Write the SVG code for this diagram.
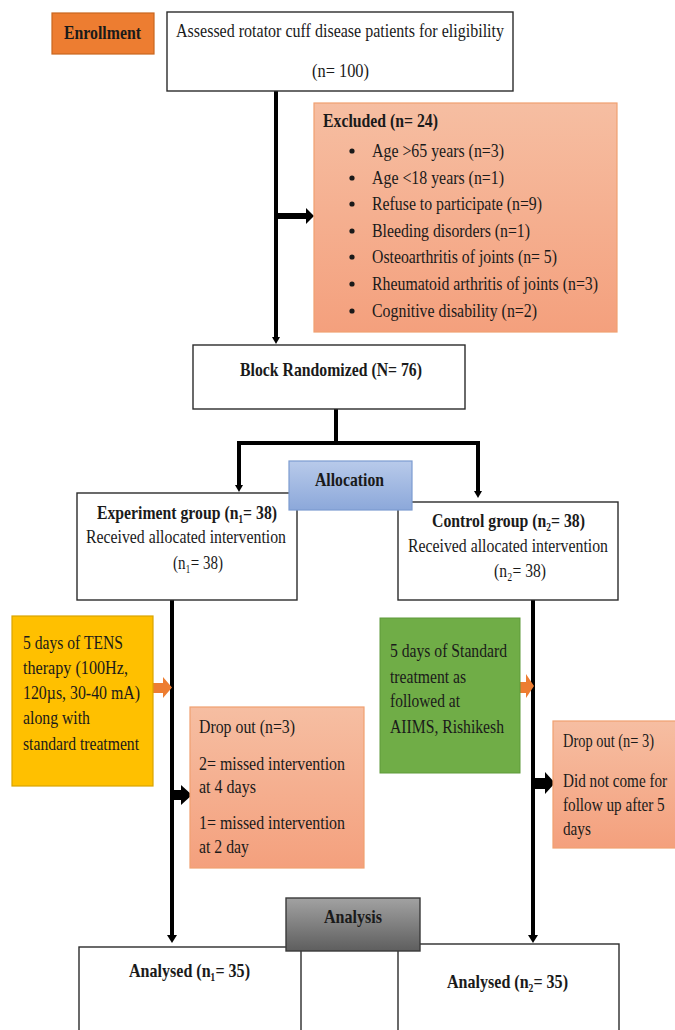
<svg xmlns="http://www.w3.org/2000/svg" width="675" height="1030" viewBox="0 0 675 1030">
<style>
.t{font-family:"Liberation Serif","Times New Roman","DejaVu Serif",serif;font-size:19px;fill:#1a1a1a}
.b{font-weight:bold}
.box{fill:#fff;stroke:#2b2b2b;stroke-width:1.4}
.ln{stroke:#000;stroke-width:4;fill:none}
.hd{fill:#000}
.oa{fill:#ED7D31}
</style>
<defs>
<linearGradient id="gS" x1="0" y1="0" x2="0" y2="1"><stop offset="0" stop-color="#F6BEA2"/><stop offset="1" stop-color="#F4A07D"/></linearGradient>
<linearGradient id="gB" x1="0" y1="0" x2="0" y2="1"><stop offset="0" stop-color="#B8CAEA"/><stop offset="1" stop-color="#8CA8DA"/></linearGradient>
<linearGradient id="gG" x1="0" y1="0" x2="0" y2="1"><stop offset="0" stop-color="#A2A2A2"/><stop offset="1" stop-color="#5E5E5E"/></linearGradient>
</defs>

<g id="connectors">
<line class="ln" x1="276" y1="91" x2="276" y2="338"/>
<polygon class="hd" points="272,337 280,337 276,344"/>
<rect x="276" y="213" width="31" height="6" fill="#000"/>
<polygon class="hd" points="306,208 314,216 306,224"/>
<line class="ln" x1="336" y1="409" x2="336" y2="443"/>
<line class="ln" x1="237" y1="443" x2="480" y2="443"/>
<line class="ln" x1="239" y1="441" x2="239" y2="486"/>
<polygon class="hd" points="235,485 243,485 239,492"/>
<line class="ln" x1="478" y1="441" x2="478" y2="492"/>
<polygon class="hd" points="474,491 482,491 478,498"/>
<line class="ln" x1="172" y1="600" x2="172" y2="937"/>
<polygon class="hd" points="167,935 177,935 172,943"/>
<line class="ln" x1="533" y1="600" x2="533" y2="937"/>
<polygon class="hd" points="528,935 538,935 533,943"/>
<rect x="172" y="790" width="10" height="10" fill="#000"/>
<polygon class="hd" points="181,785 192,795 181,805"/>
<rect x="533" y="778" width="13" height="11" fill="#000"/>
<polygon class="hd" points="545,772 555,783 545,794"/>
<polygon class="oa" points="153,683 163,683 163,677 172,687.5 163,698 163,693 153,693"/>
<polygon class="oa" points="517,682 526,682 526,674 534,686 526,698 526,693 517,693"/>
</g>

<g id="enrollment">
<rect x="52" y="13" width="102" height="41" fill="#ED7D31" stroke="#C9661F" stroke-width="1.2"/>
<text class="t b" x="64" y="39" textLength="77" lengthAdjust="spacingAndGlyphs">Enrollment</text>
</g>

<g id="assessed">
<rect class="box" x="167" y="12" width="346" height="79"/>
<text class="t" x="176" y="37" textLength="328" lengthAdjust="spacingAndGlyphs">Assessed rotator cuff disease patients for eligibility</text>
<text class="t" x="312" y="77" textLength="57" lengthAdjust="spacingAndGlyphs">(n= 100)</text>
</g>

<g id="excluded">
<rect x="314" y="103" width="303" height="229" fill="url(#gS)" stroke="#F0A070" stroke-width="1.2"/>
<text class="t b" x="323" y="127" textLength="115" lengthAdjust="spacingAndGlyphs">Excluded (n= 24)</text>
<g fill="#1a1a1a">
<circle cx="352" cy="151" r="2.6"/><circle cx="352" cy="178" r="2.6"/><circle cx="352" cy="204" r="2.6"/><circle cx="352" cy="231" r="2.6"/><circle cx="352" cy="257" r="2.6"/><circle cx="352" cy="284" r="2.6"/><circle cx="352" cy="311" r="2.6"/>
</g>
<text class="t" x="372" y="157" textLength="132" lengthAdjust="spacingAndGlyphs">Age &gt;65 years (n=3)</text>
<text class="t" x="372" y="184" textLength="132" lengthAdjust="spacingAndGlyphs">Age &lt;18 years (n=1)</text>
<text class="t" x="372" y="210" textLength="170" lengthAdjust="spacingAndGlyphs">Refuse to participate (n=9)</text>
<text class="t" x="372" y="237" textLength="158" lengthAdjust="spacingAndGlyphs">Bleeding disorders (n=1)</text>
<text class="t" x="372" y="263" textLength="185" lengthAdjust="spacingAndGlyphs">Osteoarthritis of joints (n= 5)</text>
<text class="t" x="372" y="290" textLength="226" lengthAdjust="spacingAndGlyphs">Rheumatoid arthritis of joints (n=3)</text>
<text class="t" x="372" y="317" textLength="165" lengthAdjust="spacingAndGlyphs">Cognitive disability (n=2)</text>
</g>

<g id="randomized">
<rect class="box" x="193" y="345" width="272" height="64"/>
<text class="t b" x="240" y="376" textLength="182" lengthAdjust="spacingAndGlyphs">Block Randomized (N= 76)</text>
</g>

<g id="experiment">
<rect class="box" x="77" y="493" width="220" height="107"/>
<text class="t b" x="97" y="519" textLength="180" lengthAdjust="spacingAndGlyphs">Experiment group (n₁= 38)</text>
<text class="t" x="86" y="543" textLength="200" lengthAdjust="spacingAndGlyphs">Received allocated intervention</text>
<text class="t" x="173" y="569" textLength="50" lengthAdjust="spacingAndGlyphs">(n₁= 38)</text>
</g>

<g id="control">
<rect class="box" x="398" y="502" width="220" height="98"/>
<text class="t b" x="432" y="527" textLength="153" lengthAdjust="spacingAndGlyphs">Control group (n₂= 38)</text>
<text class="t" x="408" y="552" textLength="200" lengthAdjust="spacingAndGlyphs">Received allocated intervention</text>
<text class="t" x="494" y="577" textLength="52" lengthAdjust="spacingAndGlyphs">(n₂= 38)</text>
</g>

<g id="allocation">
<rect x="289" y="461" width="123" height="49" fill="url(#gB)" stroke="#7C9CD0" stroke-width="1.2"/>
<text class="t b" x="315" y="486" textLength="69" lengthAdjust="spacingAndGlyphs">Allocation</text>
</g>

<g id="tens">
<rect x="12" y="616" width="141" height="170" fill="#FFC000" stroke="#D9A400" stroke-width="1.2"/>
<text class="t" x="23" y="649" textLength="100" lengthAdjust="spacingAndGlyphs">5 days of TENS</text>
<text class="t" x="23" y="674" textLength="105" lengthAdjust="spacingAndGlyphs">therapy (100Hz,</text>
<text class="t" x="23" y="699" textLength="117" lengthAdjust="spacingAndGlyphs">120µs, 30-40 mA)</text>
<text class="t" x="23" y="724" textLength="67" lengthAdjust="spacingAndGlyphs">along with</text>
<text class="t" x="23" y="750" textLength="116" lengthAdjust="spacingAndGlyphs">standard treatment</text>
</g>

<g id="standard">
<rect x="380" y="618" width="140" height="155" fill="#70AD47" stroke="#5E9A3A" stroke-width="1"/>
<text class="t" x="390" y="657" textLength="117" lengthAdjust="spacingAndGlyphs">5 days of Standard</text>
<text class="t" x="390" y="683" textLength="76" lengthAdjust="spacingAndGlyphs">treatment as</text>
<text class="t" x="390" y="707" textLength="70" lengthAdjust="spacingAndGlyphs">followed at</text>
<text class="t" x="390" y="733" textLength="114" lengthAdjust="spacingAndGlyphs">AIIMS, Rishikesh</text>
</g>

<g id="dropout1">
<rect x="190" y="707" width="174" height="161" fill="url(#gS)" stroke="#F0A070" stroke-width="1.2"/>
<text class="t" x="199" y="733" textLength="96" lengthAdjust="spacingAndGlyphs">Drop out (n=3)</text>
<text class="t" x="199" y="770" textLength="146" lengthAdjust="spacingAndGlyphs">2= missed intervention</text>
<text class="t" x="199" y="793" textLength="57" lengthAdjust="spacingAndGlyphs">at 4 days</text>
<text class="t" x="199" y="829" textLength="146" lengthAdjust="spacingAndGlyphs">1= missed intervention</text>
<text class="t" x="199" y="853" textLength="50" lengthAdjust="spacingAndGlyphs">at 2 day</text>
</g>

<g id="dropout2">
<rect x="553" y="721" width="123" height="127" fill="url(#gS)" stroke="#F0A070" stroke-width="1.2"/>
<text class="t" transform="translate(563,747) scale(0.76,1)" x="0" y="0">Drop out (n= 3)</text>
<text class="t" transform="translate(563,787) scale(0.8,1)" x="0" y="0">Did not come for</text>
<text class="t" transform="translate(563,811) scale(0.8,1)" x="0" y="0">follow up after 5</text>
<text class="t" transform="translate(563,835) scale(0.8,1)" x="0" y="0">days</text>
</g>

<g id="analysed1">
<rect class="box" x="79" y="947" width="222" height="100"/>
<text class="t b" x="129" y="977" textLength="121" lengthAdjust="spacingAndGlyphs">Analysed (n₁= 35)</text>
</g>

<g id="analysed2">
<rect class="box" x="398" y="944" width="221" height="100"/>
<text class="t b" x="447" y="988" textLength="121" lengthAdjust="spacingAndGlyphs">Analysed (n₂= 35)</text>
</g>

<g id="analysis">
<rect x="286" y="898" width="134" height="53" fill="url(#gG)" stroke="#3a3a3a" stroke-width="1.4"/>
<text class="t b" x="324" y="923" textLength="58" lengthAdjust="spacingAndGlyphs">Analysis</text>
</g>
</svg>
